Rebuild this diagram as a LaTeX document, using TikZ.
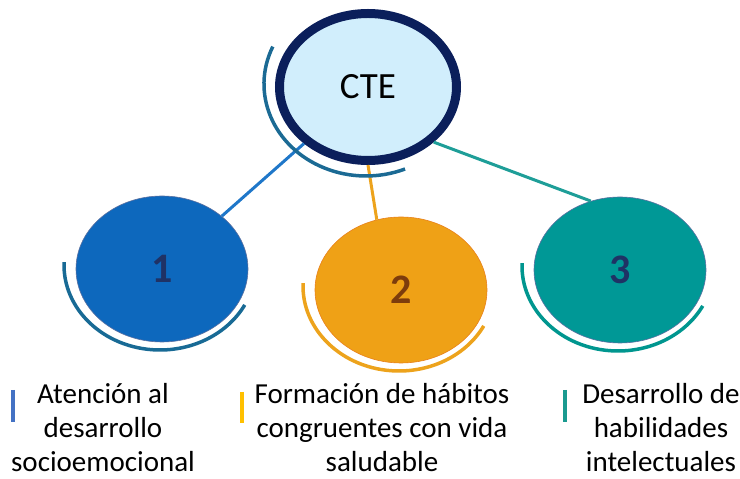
\documentclass[tikz,border=0pt]{standalone}
\usepackage{fontspec}
\setmainfont{Carlito}
\usetikzlibrary{shapes.geometric}

\definecolor{ctefill}{HTML}{D1EEFC}
\definecolor{cteline}{HTML}{0B1F5B}
\definecolor{ctearc}{HTML}{1B6A94}
\definecolor{onefill}{HTML}{0D68BD}
\definecolor{onearc}{HTML}{186A95}
\definecolor{oneline}{HTML}{1F77C9}
\definecolor{twofill}{HTML}{EFA116}
\definecolor{twoedge}{HTML}{E8801A}
\definecolor{twoarc}{HTML}{EDA31C}
\definecolor{threefill}{HTML}{009896}
\definecolor{threearc}{HTML}{00968F}
\definecolor{threeline}{HTML}{1E9E98}
\definecolor{bubbleedge}{HTML}{5A6FA0}
\definecolor{numnavy}{HTML}{1F3265}
\definecolor{numbrown}{HTML}{7D3C0C}
\definecolor{barblue}{HTML}{4472C4}
\definecolor{barorange}{HTML}{FFC000}
\definecolor{barteal}{HTML}{1A9A90}

\begin{document}
\begin{tikzpicture}[x=1pt, y=1pt, line width=1pt,
    bubble/.style={ellipse, minimum width=172pt, minimum height=146pt, inner sep=0pt,
      line width=0.6pt, font=\fontsize{42}{42}\selectfont\bfseries},
    link/.style={line width=3pt},
    swoosh/.style={line width=3.5pt},
    caption/.style={align=center, inner sep=0pt, font=\fontsize{29}{34}\selectfont}]
    \useasboundingbox (0,0) rectangle (740,479);

    % draw top ellipse
    \node[ellipse, draw=cteline, fill=ctefill, line width=9pt, minimum width=177pt,
      minimum height=147pt, font=\fontsize{37}{37}\selectfont] (cte) at (368,392) {CTE};

    % draw numbered bubbles
    \node[bubble, draw=bubbleedge, fill=onefill, text=numnavy] (c1) at (162,210) {1};
    \node[bubble, draw=twoedge, fill=twofill, text=numbrown] (c2) at (401,189) {2};
    \node[bubble, draw=bubbleedge, fill=threefill, text=numnavy] (c3) at (620,209) {3};

    % draw links
    \draw[link, oneline] (cte) -- (c1);
    \draw[link, twoarc] (cte.south) -- (c2.109);
    \draw[link, threeline] (cte.south east) -- (c3.113);

    % draw swooshes
    \draw[swoosh, ctearc] ([shift={(-2,3)}]cte.center) ++(156:102 and 92)
      arc[start angle=156, end angle=292.5, x radius=102, y radius=92];
    \foreach \n/\col in {c1/onearc, c2/twoarc, c3/threearc}
      \draw[swoosh, \col] ([shift={(-2,4)}]\n.center) ++(178:96 and 85)
        arc[start angle=178, end angle=332, x radius=96, y radius=85];

    % draw bars and captions
    \draw[line width=4pt, barblue] (12.5,89) -- (12.5,57);
    \draw[line width=4pt, barorange] (242,87) -- (242,56);
    \draw[line width=4pt, barteal] (565,89) -- (565,57);
    \node[caption] (t1) at (103,51) {Atención al\\desarrollo\\socioemocional};
    \node[caption] (t2) at (382,51) {Formación de hábitos\\congruentes con vida\\saludable};
    \node[caption] (t3) at (661,51) {Desarrollo de\\habilidades\\intelectuales};
\end{tikzpicture}
\end{document}
